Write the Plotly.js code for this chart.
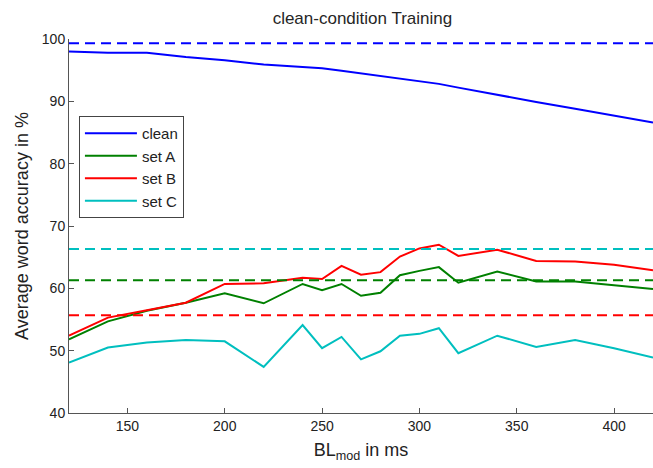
<!DOCTYPE html>
<html>
<head>
<meta charset="utf-8">
<script src="https://cdn.plot.ly/plotly-3.0.1.min.js"></script>
<style>html,body{margin:0;padding:0;background:#fff;}#chart{width:653px;height:468px;}</style>
</head>
<body>
<div id="chart"></div>
<script>
const blm = [120, 140, 160, 180, 200, 220, 240, 250, 260, 270, 280, 290, 300, 310, 320, 340, 360, 380, 400, 420];
const cleanAcc = [98.0, 97.8, 97.8, 97.1, 96.6, 95.9, 95.5, 95.3, 94.9, 94.5, 94.1, 93.7, 93.3, 92.8, 92.2, 91.0, 89.9, 88.8, 87.7, 86.6];
const setA = [51.8, 54.7, 56.4, 57.7, 59.2, 57.6, 60.7, 59.7, 60.7, 58.8, 59.3, 62.1, 62.8, 63.4, 60.9, 62.7, 61.1, 61.1, 60.5, 59.9];
const setB = [52.4, 55.3, 56.5, 57.7, 60.7, 60.8, 61.7, 61.5, 63.6, 62.2, 62.6, 65.1, 66.4, 67.0, 65.2, 66.2, 64.4, 64.3, 63.8, 62.9];
const setC = [48.1, 50.5, 51.3, 51.7, 51.5, 47.4, 54.1, 50.4, 52.2, 48.6, 49.9, 52.4, 52.7, 53.6, 49.6, 52.4, 50.6, 51.7, 50.4, 48.9];
const seriesNames = ["clean", "set A", "set B", "set C"];
const baselines = [99.3, 61.3, 55.7, 66.3];
const xRange = [120, 420];
const yTicks = [40, 50, 60, 70, 80, 90, 100];
const xTicks = [150, 200, 250, 300, 350, 400];

const colors = ["#0000ff", "#008000", "#ff0000", "#00bfbf"];
const vals = [cleanAcc, setA, setB, setC];
const traces = [];
vals.forEach((v, i) => {
  traces.push({x: blm, y: v, type: "scatter", mode: "lines", name: seriesNames[i],
    line: {color: colors[i], width: 2}});
});
baselines.forEach((b, i) => {
  traces.push({x: xRange, y: [b, b], type: "scatter", mode: "lines", showlegend: false,
    hoverinfo: "skip", line: {color: colors[i], width: 2, dash: "10px,6px"}});
});

const font = "Liberation Sans, Arial, sans-serif";
const layout = {
  width: 653, height: 468,
  margin: {l: 69, r: 0, t: 39, b: 55},
  paper_bgcolor: "#fff", plot_bgcolor: "#fff",
  font: {family: font, color: "#000", size: 13},
  title: {text: "clean-condition Training", font: {size: 17, family: font, color: "#262626"}, x: 0.555, xanchor: "center", y: 0.962, yanchor: "middle"},
  showlegend: true,
  legend: {x: 0.017, y: 0.794, xanchor: "left", yanchor: "top", bgcolor: "#fff",
    bordercolor: "#444", borderwidth: 1, font: {size: 15, family: font, color: "#222"}, itemwidth: 52,
    tracegroupgap: 0},
  xaxis: {range: xRange, tickvals: xTicks, ticks: "inside", ticklen: 5, tickcolor: "#555",
    showline: true, linecolor: "#555", linewidth: 1, showgrid: false, zeroline: false,
    tickfont: {size: 14, color: "#222"},
    title: {text: "BL<sub>mod</sub> in ms", font: {size: 18, color: "#222"}, standoff: 10}},
  yaxis: {range: [40, 100], tickvals: yTicks, ticks: "inside", ticklen: 5, tickcolor: "#555",
    showline: true, linecolor: "#555", linewidth: 1, showgrid: false, zeroline: false,
    tickfont: {size: 14, color: "#222"},
    title: {text: "Average word accuracy in %", font: {size: 18, color: "#222"}, standoff: 8}}
};
Plotly.newPlot("chart", traces, layout, {displayModeBar: false, staticPlot: true});
</script>
</body>
</html>
